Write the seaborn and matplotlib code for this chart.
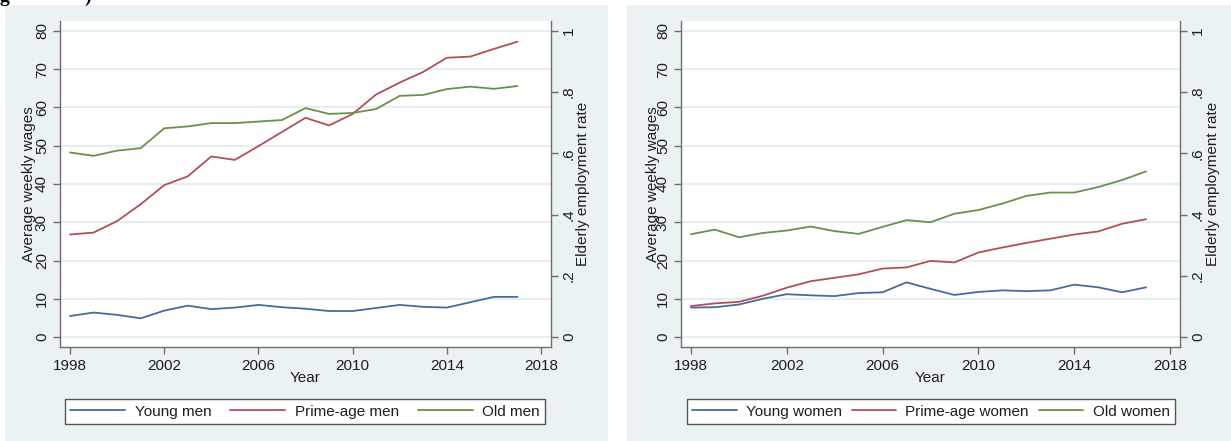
import matplotlib
matplotlib.use("Agg")
import matplotlib.pyplot as plt
import seaborn as sns
from matplotlib.patches import Rectangle
from matplotlib.ticker import FixedLocator, FuncFormatter

# ---- data -------------------------------------------------------------
years = list(range(1998, 2018))

young_men = [5.5, 6.4, 5.8, 4.9, 6.9, 8.2, 7.3, 7.7, 8.4, 7.8,
             7.4, 6.8, 6.8, 7.6, 8.4, 7.9, 7.7, 9.1, 10.5, 10.5]
prime_men = [26.8, 27.3, 30.3, 34.7, 39.7, 42.0, 47.2, 46.3, 49.9, 53.6,
             57.3, 55.3, 58.3, 63.4, 66.5, 69.3, 73.0, 73.3, 75.3, 77.2]
old_men_rate = [0.603, 0.592, 0.609, 0.617, 0.682, 0.688, 0.699, 0.699, 0.704, 0.709,
                0.748, 0.729, 0.732, 0.745, 0.788, 0.791, 0.810, 0.818, 0.811, 0.820]

young_women = [7.7, 7.8, 8.5, 10.0, 11.2, 10.9, 10.7, 11.5, 11.7, 14.3,
               12.6, 11.0, 11.8, 12.2, 12.0, 12.2, 13.7, 13.0, 11.7, 13.0]
prime_women = [8.1, 8.8, 9.2, 10.8, 12.9, 14.6, 15.5, 16.4, 17.9, 18.2,
               19.9, 19.5, 22.1, 23.4, 24.6, 25.7, 26.8, 27.6, 29.6, 30.8]
old_women_rate = [0.336, 0.351, 0.326, 0.340, 0.348, 0.361, 0.346, 0.337, 0.360, 0.382,
                  0.375, 0.403, 0.415, 0.436, 0.461, 0.472, 0.472, 0.490, 0.513, 0.541]

men_labels = ["Young men", "Prime-age men", "Old men"]
women_labels = ["Young women", "Prime-age women", "Old women"]

wage_ticks = [0, 10, 20, 30, 40, 50, 60, 70, 80]
rate_ticks = [0, 0.2, 0.4, 0.6, 0.8, 1.0]
year_ticks = [1998, 2002, 2006, 2010, 2014, 2018]

# ---- style ------------------------------------------------------------
sns.set_style("ticks")
plt.rcParams["font.family"] = ["Liberation Sans", "DejaVu Sans"]
plt.rcParams["font.size"] = 11

line_colors = ["#436d9b", "#b24e56", "#6b9148"]
region_color = "#eaf2f3"
grid_color = "#e6eef0"
axis_color = "#6e6e6e"
text_color = "#1e1e1e"

W, H = 1231, 441
fig = plt.figure(figsize=(W / 100, H / 100), dpi=100)
fig.patch.set_facecolor("white")

# graph regions behind each panel
for x0, x1 in [(5, 608), (627, 1231)]:
    fig.patches.append(Rectangle((x0 / W, 0), (x1 - x0) / W, (H - 5) / H,
                                 transform=fig.transFigure, facecolor=region_color,
                                 edgecolor="none", zorder=-10))

# caption remnant above the panels
fig.text(0.0, 1.0 - 1.5 / H, "g", family="Liberation Serif", weight="bold",
         fontsize=14, va="baseline", ha="left", color="black")
fig.text(84 / W, 1.0 - 1.5 / H, ")", family="Liberation Serif", weight="bold",
         fontsize=14, va="baseline", ha="left", color="black")

wage_lim = (-2.6, 82.6)
rate_lim = (wage_lim[0] / 80, wage_lim[1] / 80)


def rate_fmt(v, _):
    if abs(v) < 1e-9:
        return "0"
    if abs(v - 1) < 1e-9:
        return "1"
    return f"{v:.1f}".lstrip("0")


def draw_panel(rect, young, prime, old_rate, labels, legend_rect, ylab_x, xpad,
               handlelength, colspacing):
    ax = fig.add_axes(rect)
    ax.set_facecolor("white")
    ax2 = ax.twinx()

    sns.lineplot(x=years, y=young, ax=ax, color=line_colors[0], lw=1.3, label=labels[0])
    sns.lineplot(x=years, y=prime, ax=ax, color=line_colors[1], lw=1.3, label=labels[1])
    sns.lineplot(x=years, y=old_rate, ax=ax2, color=line_colors[2], lw=1.3, label=labels[2])

    h1, l1 = ax.get_legend_handles_labels()
    h2, l2 = ax2.get_legend_handles_labels()
    ax.get_legend().remove()
    ax2.get_legend().remove()

    ax.set_xlim(1998 - xpad, 2018 + xpad)
    ax.set_ylim(*wage_lim)
    ax2.set_ylim(*rate_lim)

    ax.xaxis.set_major_locator(FixedLocator(year_ticks))
    ax.yaxis.set_major_locator(FixedLocator(wage_ticks))
    ax2.yaxis.set_major_locator(FixedLocator(rate_ticks))
    ax2.yaxis.set_major_formatter(FuncFormatter(rate_fmt))

    ax.grid(axis="y", color=grid_color, lw=1.6, zorder=0)
    ax.set_axisbelow(True)

    for a in (ax, ax2):
        for side in ("left", "right", "bottom"):
            a.spines[side].set_color(axis_color)
            a.spines[side].set_linewidth(1.0)
        a.spines["top"].set_visible(False)
        a.tick_params(colors=axis_color, labelcolor=text_color, length=5, width=1.0,
                      labelsize=11)
    ax.spines["right"].set_visible(False)
    ax2.spines["left"].set_visible(False)
    ax2.spines["bottom"].set_visible(False)

    ax.tick_params(axis="y", labelrotation=90, pad=3)
    ax2.tick_params(axis="y", labelrotation=90, pad=3)
    for t in ax.get_yticklabels() + ax2.get_yticklabels():
        t.set_va("center")
    ax.tick_params(axis="x", pad=4)

    ax.set_xlabel("Year", fontsize=11, color=text_color)
    ax.xaxis.set_label_coords(0.5, -0.075)
    ax.set_ylabel("Average weekly wages", fontsize=11, color=text_color, va="center")
    ax.yaxis.set_label_coords(ylab_x, 0.5)
    ax2.set_ylabel("Elderly employment rate", fontsize=11, color=text_color, va="center")
    ax2.yaxis.set_label_coords(1.066, 0.5)

    leg = fig.legend(h1 + h2, l1 + l2, loc="lower left", bbox_to_anchor=legend_rect,
                     bbox_transform=fig.transFigure, mode="expand", ncol=3,
                     fontsize=11, handlelength=handlelength, handletextpad=0.6,
                     columnspacing=colspacing, borderpad=0.35, borderaxespad=0,
                     fancybox=False, framealpha=1)
    leg.get_frame().set_edgecolor("#555555")
    leg.get_frame().set_linewidth(1.0)
    for t in leg.get_texts():
        t.set_color(text_color)
    return ax, ax2


# left panel (men)
draw_panel([60 / W, 1 - 347 / H, 491 / W, 326 / H],
           young_men, prime_men, old_men_rate, men_labels,
           (65 / W, 1 - 424 / H, 480 / W, 27 / H), -0.063, 10 / 23.55, 3.6, 1.2)

# right panel (women)
draw_panel([681 / W, 1 - 347 / H, 499 / W, 326 / H],
           young_women, prime_women, old_women_rate, women_labels,
           (687 / W, 1 - 424 / H, 488 / W, 27 / H), -0.056, 10 / 24.0, 2.9, 0.4)

fig.savefig("out.png", dpi=100, facecolor="white")
